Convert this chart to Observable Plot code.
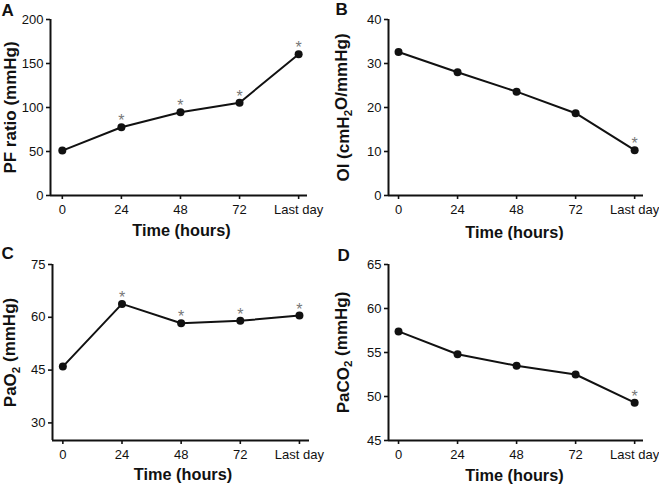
<!DOCTYPE html>
<html>
<head>
<meta charset="utf-8">
<script src="https://cdn.jsdelivr.net/npm/d3@7"></script>
<script src="https://cdn.jsdelivr.net/npm/@observablehq/plot@0.6"></script>
<style>
  html, body { margin: 0; padding: 0; background: #fff; }
  #wrap { position: relative; width: 659px; height: 487px; overflow: hidden; }
  .panel { position: absolute; }
  .panel svg { display: block; }
</style>
</head>
<body>
<div id="wrap"></div>
<script>
// ---- data ----
const timeLabels = ["0", "24", "48", "72", "Last day"];

const pfRatio = [51, 77.5, 94.5, 105.5, 160.5];
const pfSig   = [false, true, true, true, true];

const oiValues = [32.6, 28.0, 23.6, 18.7, 10.3];
const oiSig    = [false, false, false, false, true];

const pao2Values = [46.0, 63.8, 58.3, 59.0, 60.5];
const pao2Sig    = [false, true, true, true, true];

const paco2Values = [57.4, 54.8, 53.5, 52.5, 49.3];
const paco2Sig    = [false, false, false, false, true];

const panelLetters = ["A", "B", "C", "D"];
const yTitles = ["PF ratio (mmHg)", "OI (cmH\u2082O/mmHg)", "PaO\u2082 (mmHg)", "PaCO\u2082 (mmHg)"];
const xTitle = "Time (hours)";
const yTicksA = [0, 50, 100, 150, 200];
const yTicksB = [0, 10, 20, 30, 40];
const yTicksC = [30, 45, 60, 75];
const yTicksD = [45, 50, 55, 60, 65];

const FONT = "'Liberation Sans', Arial, Helvetica, sans-serif";
const INK = "#111";

function subscriptify(svg) {
  d3.select(svg).selectAll("text").each(function () {
    const el = this;
    if (el.querySelector("tspan")) return;
    const s = el.textContent;
    if (!s.includes("\u2082")) return;
    const parts = s.split("\u2082");
    el.textContent = "";
    parts.forEach((p, i) => {
      const t = document.createElementNS("http://www.w3.org/2000/svg", "tspan");
      t.textContent = p;
      if (i > 0) t.setAttribute("dy", "-0.3em");
      el.appendChild(t);
      if (i < parts.length - 1) {
        const sub = document.createElementNS("http://www.w3.org/2000/svg", "tspan");
        sub.textContent = "2";
        sub.setAttribute("dy", "0.3em");
        sub.setAttribute("font-size", "0.68em");
        el.appendChild(sub);
      }
    });
  });
}

function panel(cfg) {
  const data = cfg.values.map((v, i) => ({i, v, sig: cfg.sig[i]}));
  const [ml, mr, mt, mb] = cfg.margins;
  const chart = Plot.plot({
    width: cfg.width,
    height: cfg.height,
    marginLeft: ml,
    marginRight: mr,
    marginTop: mt,
    marginBottom: mb,
    style: {fontFamily: FONT, fontSize: "13px", color: INK, background: "white"},
    x: {type: "linear", domain: cfg.xDomain},
    y: {domain: cfg.yDomain},
    marks: [
      Plot.axisY(cfg.yTicks, {tickSize: 4, tickPadding: 3, fontSize: 13, strokeWidth: 1.6, label: null, tickFormat: d => String(d)}),
      Plot.axisX(d3.range(timeLabels.length), {tickSize: 4, tickPadding: 5, fontSize: 13, strokeWidth: 1.6, label: null, tickFormat: i => timeLabels[i]}),
      Plot.ruleX([cfg.xDomain[0]], {stroke: INK, strokeWidth: 2}),
      Plot.ruleY([cfg.yDomain[0]], {stroke: INK, strokeWidth: 2}),
      Plot.line(data, {x: "i", y: "v", stroke: INK, strokeWidth: 2}),
      Plot.dot(data, {x: "i", y: "v", r: 4, fill: INK, stroke: "none"}),
      Plot.text(data.filter(d => d.sig), {x: "i", y: "v", text: () => "*", fill: "#777", fontSize: 16, lineAnchor: "bottom", dy: -1}),
      Plot.text([cfg.yTitle], {text: d => d, frameAnchor: "left", dx: cfg.yTitleDx, rotate: -90, fontWeight: "bold", fontSize: 17, lineAnchor: "middle", textAnchor: "middle"}),
      Plot.text([xTitle], {text: d => d, frameAnchor: "bottom", dx: cfg.xTitleDx, dy: cfg.xTitleDy, fontWeight: "bold", fontSize: 16.3, lineAnchor: "bottom"}),
      Plot.text([cfg.letter], {text: d => d, frameAnchor: "top-left", dx: cfg.letterPos[0] - ml, dy: cfg.letterPos[1] - mt, fontWeight: "bold", fontSize: 17, textAnchor: "start", lineAnchor: "top"})
    ]
  });
  subscriptify(chart);
  const div = document.createElement("div");
  div.className = "panel";
  div.style.left = cfg.left + "px";
  div.style.top = cfg.top + "px";
  div.appendChild(chart);
  document.getElementById("wrap").appendChild(div);
}

panel({
  letter: panelLetters[0], values: pfRatio, sig: pfSig, yTicks: yTicksA, yDomain: [0, 200],
  yTitle: yTitles[0], left: 0, top: 0, width: 330, height: 240,
  margins: [50, 23, 19, 45], xDomain: [-0.2, 4.15],
  yTitleDx: -40, xTitleDx: 2.5, xTitleDy: 40.5, letterPos: [1, 3]
});
panel({
  letter: panelLetters[1], values: oiValues, sig: oiSig, yTicks: yTicksB, yDomain: [0, 40],
  yTitle: yTitles[1], left: 330, top: 0, width: 329, height: 240,
  margins: [58, 16, 19, 45], xDomain: [-0.17, 4.15],
  yTitleDx: -45, xTitleDx: -1.5, xTitleDy: 42, letterPos: [5, 2]
});
panel({
  letter: panelLetters[2], values: pao2Values, sig: pao2Sig, yTicks: yTicksC, yDomain: [25, 75],
  yTitle: yTitles[2], left: 0, top: 240, width: 330, height: 247,
  margins: [52, 21, 24, 47], xDomain: [-0.175, 4.17],
  yTitleDx: -41.5, xTitleDx: 2, xTitleDy: 39, letterPos: [1, 6]
});
panel({
  letter: panelLetters[3], values: paco2Values, sig: paco2Sig, yTicks: yTicksD, yDomain: [45, 65],
  yTitle: yTitles[3], left: 330, top: 240, width: 329, height: 247,
  margins: [58, 16, 24, 47], xDomain: [-0.17, 4.15],
  yTitleDx: -45, xTitleDx: -1.5, xTitleDy: 40, letterPos: [7, 8]
});
</script>
</body>
</html>
